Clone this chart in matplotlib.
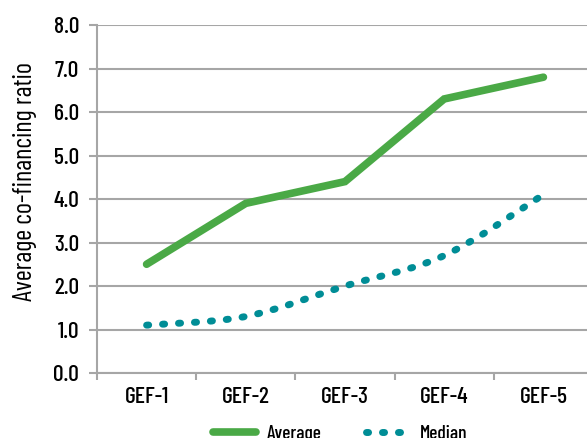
import matplotlib
matplotlib.use("Agg")
import matplotlib.pyplot as plt
from matplotlib.path import Path
from matplotlib.patches import PathPatch
from matplotlib.lines import Line2D

categories = ["GEF-1", "GEF-2", "GEF-3", "GEF-4", "GEF-5"]
average = [2.5, 3.9, 4.4, 6.3, 6.8]
median = [1.1, 1.3, 2.0, 2.7, 4.1]
yticks = [0.0, 1.0, 2.0, 3.0, 4.0, 5.0, 6.0, 7.0, 8.0]

plt.rcParams["font.family"] = ["Barlow Condensed", "DejaVu Sans"]
plt.rcParams["font.weight"] = 500

GREEN = "#4aa946"
TEAL = "#008d96"
GRID = "#a6a6a6"

fig = plt.figure(figsize=(5.87, 4.38), dpi=100)
ax = fig.add_axes([97/587, 65/438, 496/587, 348/438])

x = list(range(len(categories)))
ax.plot(x, average, color=GREEN, lw=5.5, solid_capstyle="round", solid_joinstyle="miter", zorder=3)

# smoothed median (Bezier through the data points)
pts = list(zip(x, median))
verts = [pts[0]]
codes = [Path.MOVETO]
n = len(pts)
for i in range(n - 1):
    p0 = pts[i - 1] if i > 0 else pts[i]
    p1 = pts[i]
    p2 = pts[i + 1]
    p3 = pts[i + 2] if i + 2 < n else pts[i + 1]
    c1 = (p1[0] + (p2[0] - p0[0]) / 6, p1[1] + (p2[1] - p0[1]) / 6)
    c2 = (p2[0] - (p3[0] - p1[0]) / 6, p2[1] - (p3[1] - p1[1]) / 6)
    verts += [c1, c2, p2]
    codes += [Path.CURVE4] * 3
patch = PathPatch(Path(verts, codes), fill=False, edgecolor=TEAL, lw=5,
                  linestyle=(0, (0.3, 2.0)), capstyle="round", zorder=3)
ax.add_patch(patch)

ax.set_xlim(-0.5, 4.5)
ax.set_ylim(0, 8)
ax.set_yticks(yticks)
ax.set_yticklabels([f"{v:.1f}" for v in yticks], fontsize=17)
ax.set_xticks(x)
ax.set_xticklabels(categories, fontsize=17)
ax.set_xticks([i - 0.5 for i in range(len(categories) + 1)], minor=True)
ax.tick_params(axis="x", which="major", length=0, pad=10)
ax.tick_params(axis="x", which="minor", length=5, width=1.5, color=GRID)
ax.tick_params(axis="y", length=6, width=1.5, color=GRID, pad=7)

ax.grid(axis="y", color=GRID, lw=1.5)
ax.set_axisbelow(True)
for s in ["top", "right"]:
    ax.spines[s].set_visible(False)
for s in ["left", "bottom"]:
    ax.spines[s].set_color(GRID)
    ax.spines[s].set_linewidth(1.5)

ax.set_ylabel("Average co-financing ratio", fontsize=19)
ax.yaxis.set_label_coords(-0.121, 0.549)

handles = [Line2D([], [], color=GREEN, lw=5.5, solid_capstyle="round"),
           Line2D([], [], color=TEAL, lw=5, linestyle=(0, (0.3, 2.0)), dash_capstyle="round")]
fig.legend(handles, ["Average", "Median"], loc="center", bbox_to_anchor=(340/587, 1 - 434/438),
           ncol=2, frameon=False, fontsize=14, handlelength=2.2, columnspacing=2.3, handletextpad=0.55,
           borderaxespad=0, borderpad=0)

fig.savefig("out.png", dpi=100)
